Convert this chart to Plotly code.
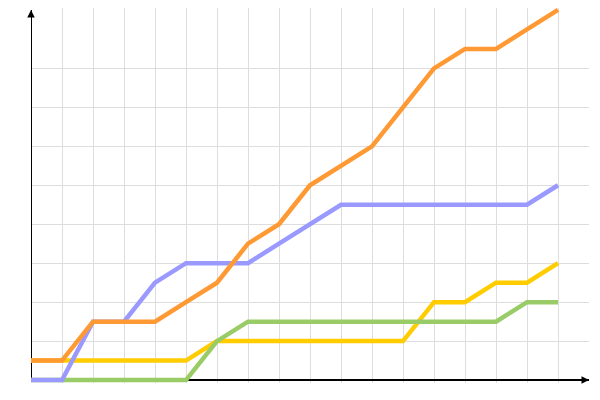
import plotly.graph_objects as go

x_idx = list(range(18))
orange = [1, 1, 3, 3, 3, 4, 5, 7, 8, 10, 11, 12, 14, 16, 17, 17, 18, 19]
blue = [0, 0, 3, 3, 5, 6, 6, 6, 7, 8, 9, 9, 9, 9, 9, 9, 9, 10]
yellow = [1, 1, 1, 1, 1, 1, 2, 2, 2, 2, 2, 2, 2, 4, 4, 5, 5, 6]
green = [0, 0, 0, 0, 0, 0, 2, 3, 3, 3, 3, 3, 3, 3, 3, 3, 4, 4]

series = [
    ("yellow", yellow, "#FFCC00"),
    ("green", green, "#99CC66"),
    ("blue", blue, "#9999FF"),
    ("orange", orange, "#FF9933"),
]

fig = go.Figure()
for name, vals, col in series:
    fig.add_trace(go.Scatter(x=x_idx, y=vals, mode="lines", name=name,
                             line=dict(color=col, width=4.5)))

fig.update_layout(
    width=592, height=392,
    margin=dict(l=23, r=11, t=0, b=17),
    paper_bgcolor="white", plot_bgcolor="white",
    showlegend=False,
    xaxis=dict(range=[0, 18], tickvals=list(range(1, 18)), showticklabels=False,
               showgrid=True, gridcolor="#DDDDDD", gridwidth=1, zeroline=False,
               showline=False, ticks=""),
    yaxis=dict(range=[-0.15, 19.1], tickvals=list(range(2, 17, 2)), showticklabels=False,
               showgrid=True, gridcolor="#DDDDDD", gridwidth=1,
               zeroline=True, zerolinecolor="black", zerolinewidth=1.5,
               showline=False, ticks=""),
)

# mask grid below the x axis
fig.add_shape(type="rect", xref="paper", yref="y", x0=0, x1=1, y0=-0.2, y1=-0.045,
              fillcolor="white", line=dict(width=0), layer="between")
# y axis line (drawn between grid and traces)
fig.add_shape(type="line", xref="x", yref="y", x0=0, x1=0, y0=0, y1=19,
              line=dict(color="black", width=2), layer="between")

fig.add_annotation(x=18, y=0, xref="x", yref="y", ax=-8, ay=0,
                   axref="pixel", ayref="pixel", text="", showarrow=True,
                   arrowhead=2, arrowsize=1, arrowwidth=1.5, arrowcolor="black")
fig.add_annotation(x=0, y=19, xref="x", yref="y", ax=0, ay=8,
                   axref="pixel", ayref="pixel", text="", showarrow=True,
                   arrowhead=2, arrowsize=1, arrowwidth=1.5, arrowcolor="black")

fig.write_html("out.html")
